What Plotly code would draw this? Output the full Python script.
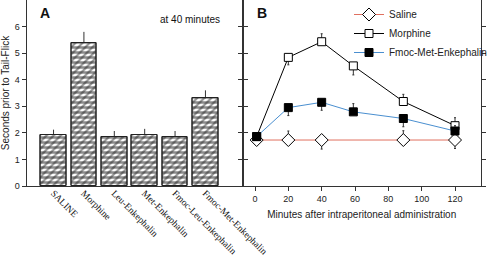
import plotly.graph_objects as go

# Panel A data
categories = ["SALINE", "Morphine", "Leu-Enkephalin", "Met-Enkephalin",
              "Fmoc-Leu-Enkephalin", "Fmoc-Met-Enkephalin"]
bar_values = [1.92, 5.40, 1.86, 1.92, 1.86, 3.30]
bar_err = [0.20, 0.40, 0.21, 0.23, 0.21, 0.30]

# Panel B data
saline_x = [1, 20, 40, 89, 120]
saline_y = [1.73, 1.73, 1.73, 1.73, 1.73]
saline_err_up = [0, 0.34, 0, 0.35, 0]
saline_err_dn = [0, 0, 0.34, 0, 0.32]

morphine_x = [1, 20, 40, 59, 89, 120]
morphine_y = [1.86, 4.84, 5.43, 4.52, 3.18, 2.27]
morphine_err_up = [0, 0, 0.30, 0, 0.27, 0.30]
morphine_err_dn = [0, 0.28, 0, 0.34, 0, 0]

fmoc_x = [1, 20, 40, 59, 89, 120]
fmoc_y = [1.86, 2.95, 3.15, 2.79, 2.54, 2.07]
fmoc_err_up = [0, 0, 0, 0.31, 0, 0.2]
fmoc_err_dn = [0, 0.30, 0.30, 0, 0.31, 0]

FONT = "Liberation Sans, Arial, sans-serif"
SERIF = "Liberation Serif, Times New Roman, serif"

fig = go.Figure()

# Bars: two overlaid patterns to mimic the brick/zigzag hatch
fig.add_trace(go.Bar(
    x=list(range(len(categories))), y=bar_values, width=0.84,
    marker=dict(color="white", line=dict(color="#222", width=1),
                pattern=dict(shape="-", fgcolor="#1a1a1a", bgcolor="white",
                             size=5, solidity=0.5)),
    error_y=dict(type="data", array=bar_err, arrayminus=[0]*6,
                 color="#333", thickness=1, width=0),
    showlegend=False, hoverinfo="skip", xaxis="x", yaxis="y"))
fig.add_trace(go.Bar(
    x=list(range(len(categories))), y=bar_values, width=0.84,
    marker=dict(color="rgba(0,0,0,0)", line=dict(color="#222", width=1),
                pattern=dict(shape="/", fgcolor="#2a2a2a", bgcolor="rgba(0,0,0,0)",
                             size=5, solidity=0.45)),
    showlegend=False, hoverinfo="skip", xaxis="x", yaxis="y"))

fig.add_trace(go.Scatter(
    x=saline_x, y=saline_y, mode="lines+markers", name="Saline",
    line=dict(color="#e07060", width=1),
    marker=dict(symbol="diamond", size=10, color="white",
                line=dict(color="black", width=1)),
    error_y=dict(type="data", array=saline_err_up, arrayminus=saline_err_dn,
                 color="#333", thickness=1, width=1),
    xaxis="x2", yaxis="y2"))
fig.add_trace(go.Scatter(
    x=morphine_x, y=morphine_y, mode="lines+markers", name="Morphine",
    line=dict(color="black", width=1),
    marker=dict(symbol="square", size=8, color="white",
                line=dict(color="black", width=1)),
    error_y=dict(type="data", array=morphine_err_up, arrayminus=morphine_err_dn,
                 color="#333", thickness=1, width=1),
    xaxis="x2", yaxis="y2"))
fig.add_trace(go.Scatter(
    x=fmoc_x, y=fmoc_y, mode="lines+markers", name="Fmoc-Met-Enkephalin",
    line=dict(color="#4a8fd0", width=1),
    marker=dict(symbol="square", size=8, color="black",
                line=dict(color="black", width=1)),
    error_y=dict(type="data", array=fmoc_err_up, arrayminus=fmoc_err_dn,
                 color="#333", thickness=1, width=1),
    xaxis="x2", yaxis="y2"))

W, H = 489, 256
ax_common = dict(showgrid=False, zeroline=False, showline=True,
                 linecolor="#333", linewidth=1)

fig.update_layout(
    width=W, height=H,
    margin=dict(l=0, r=0, t=0, b=70, autoexpand=False),
    paper_bgcolor="white", plot_bgcolor="white",
    barmode="overlay", bargap=0,
    font=dict(family=FONT, size=10, color="#222"),
    xaxis=dict(domain=[26.5 / W, 242.5 / W], range=[-0.89, 6.22],
               tickmode="array", tickvals=list(range(len(categories))),
               ticktext=categories, tickangle=45, ticks="",
               ticklabelstandoff=-3,
               tickfont=dict(family=SERIF, size=9.5, color="#111"),
               mirror=False, **ax_common),
    yaxis=dict(domain=[0, 1], range=[0, 7.0], tickvals=[0, 1, 2, 3, 4, 5, 6],
               ticks="outside", ticklen=4, tickcolor="#333",
               tickfont=dict(size=9), mirror="ticks",
               title=dict(text="Seconds prior to Tail-Flick", standoff=6,
                          font=dict(size=10)),
               anchor="x", **ax_common),
    xaxis2=dict(domain=[242.5 / W, 481 / W], range=[-7.5, 135.6],
                tickvals=[0, 20, 40, 60, 80, 100, 120],
                ticks="outside", ticklen=4, tickcolor="#333",
                tickfont=dict(size=9),
                title=dict(text="Minutes after intraperitoneal administration",
                           standoff=8, font=dict(size=10)),
                anchor="y2", **ax_common),
    yaxis2=dict(domain=[0, 1], range=[0, 7.0], tickvals=[0, 1, 2, 3, 4, 5, 6],
                ticks="outside", ticklen=4, tickcolor="#333",
                showticklabels=False, mirror="ticks",
                anchor="x2", **ax_common),
    legend=dict(x=349 / W, y=1.0, xanchor="left", yanchor="top",
                bgcolor="rgba(0,0,0,0)", font=dict(size=10),
                tracegroupgap=0),
    annotations=[
        dict(text="<b>A</b>", x=-0.28, y=6.52, xref="x", yref="y",
             showarrow=False, font=dict(size=14, color="#111")),
        dict(text="at 40 minutes", x=4.5, y=6.25, xref="x", yref="y",
             showarrow=False, font=dict(size=10, color="#111")),
        dict(text="<b>B</b>", x=4.2, y=6.52, xref="x2", yref="y2",
             showarrow=False, font=dict(size=14, color="#111")),
    ],
)

fig.write_html("out.html",
               config={"displayModeBar": False},
               post_script="document.body.style.margin='0';")
